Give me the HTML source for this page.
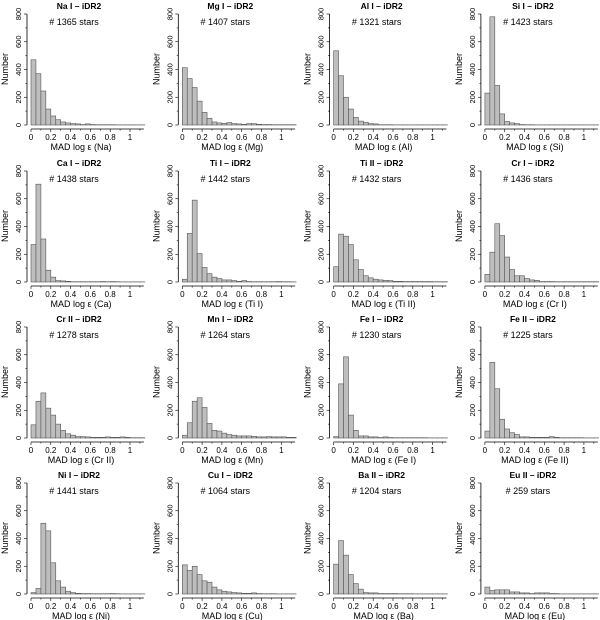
<!DOCTYPE html>
<html><head><meta charset="utf-8"><style>
html,body{margin:0;padding:0;background:#fff;}
svg{display:block;font-family:"Liberation Sans",sans-serif;}
</style></head><body>
<svg id="c" width="600" height="620"></svg>
<script>
const titles=["Na I","Mg I","Al I","Si I","Ca I","Ti I","Ti II","Cr I","Cr II","Mn I","Fe I","Fe II","Ni I","Cu I","Ba II","Eu II"];
const labels=["Na","Mg","Al","Si","Ca","Ti I","Ti II","Cr I","Cr II","Mn","Fe I","Fe II","Ni","Cu","Ba","Eu"];
const starCounts=[1365,1407,1321,1423,1438,1442,1432,1436,1278,1264,1230,1225,1441,1064,1204,259];
const binWidth=0.05;
const xTicks=[0,0.2,0.4,0.6,0.8,1];
const xTickLabels=["0","0.2","0.4","0.6","0.8","1"];
const yTicks=[0,200,400,600,800];
const hNa=[470,370,245,115,65,38,22,15,10,8,3,8,3,2,2,2,2,1,1,1,1,1,1];
const hMg=[413,334,270,172,91,48,22,15,12,18,10,8,5,10,10,5,3,3,2,2,2,2,2];
const hAl=[535,355,200,115,55,28,20,10,8,2,2,2,1,1,1,1,1,1,1,1,1,1,1];
const hSi=[230,780,285,80,25,15,10,3,2,2,1,1,1,1,1,1,1,1,1,1,1,1,1];
const hCa=[270,705,310,85,35,10,8,5,2,2,2,2,2,2,3,2,3,2,1,1,1,1,1];
const hTiI=[20,350,590,205,105,60,35,25,15,15,10,5,10,3,2,2,2,2,2,3,2,2,1];
const hTiII=[110,345,330,270,160,90,45,30,20,15,12,10,5,5,3,3,3,3,3,3,2,2,2];
const hCrI=[55,215,420,335,180,90,45,45,25,15,12,3,3,3,2,2,2,2,2,2,2,2,2];
const hCrII=[95,265,325,215,165,100,55,30,20,10,10,8,5,5,5,8,5,5,8,5,2,2,2];
const hMn=[20,110,265,290,220,105,55,50,35,25,20,15,15,15,12,8,8,10,8,8,8,5,5];
const hFeI=[10,390,585,165,55,15,15,8,8,3,8,3,2,2,2,2,2,2,2,1,1,1,1];
const hFeII=[50,545,355,135,65,38,25,8,8,5,5,5,5,10,5,2,2,2,2,2,1,1,1];
const hNi=[10,40,510,455,225,95,50,20,10,5,3,3,2,2,2,2,3,2,1,1,1,1,1];
const hCu=[210,170,200,140,95,85,50,30,20,15,10,8,5,5,8,3,2,2,2,1,1,1,1];
const hBa=[215,385,280,140,75,35,10,8,8,3,3,3,3,2,2,2,1,1,1,1,1,1,1];
const hEu=[50,25,30,30,30,15,15,8,8,3,8,8,8,3,3,1,1,1,1,1,1,1,1];
const allHists=[hNa,hMg,hAl,hSi,hCa,hTiI,hTiII,hCrI,hCrII,hMn,hFeI,hFeII,hNi,hCu,hBa,hEu];

const svg=document.getElementById('c');
const NS="http://www.w3.org/2000/svg";
function mk(tag,attrs,parent,text){const e=document.createElementNS(NS,tag);for(const k in attrs)e.setAttribute(k,attrs[k]);if(text!==undefined)e.textContent=text;parent.appendChild(e);return e;}
const rowY0=[125,282,438,594];
const xScaleK=99, yScaleK=111/800;
for(let i=0;i<16;i++){
  const col=i%4,row=Math.floor(i/4);
  const x0=31+col*151.3, y0=rowY0[row];
  const sx=v=>x0+v*xScaleK, sy=v=>y0-v*yScaleK;
  const g=mk('g',{},svg);
  
  
  const t=mk('text',{x:x0+48,y:y0-116,'text-anchor':'middle','font-size':'8.5','font-weight':'bold'},g,titles[i]+" \u2013 iDR2");
  
  
  const st=mk('text',{x:x0+43,y:y0-100,'text-anchor':'middle','font-size':'9'},g,"# "+starCounts[i]+" stars");
  
  
  const h=allHists[i];
  for(let b=0;b<h.length;b++){
    const r=mk('rect',{x:sx(b*binWidth),y:sy(h[b]),width:sx((b+1)*binWidth)-sx(b*binWidth),height:y0-sy(h[b]),fill:'#bebebe',stroke:'#555','stroke-width':'0.6'},g);
    
    
  }
  const ax=x0-4;
  const ya=mk('line',{x1:ax,y1:sy(0),x2:ax,y2:sy(800),stroke:'#000','stroke-width':'0.8'},g);
  
  
  for(let v=0;v<=800;v+=100){mk('line',{x1:ax-(v%200===0?3:1.5),y1:sy(v),x2:ax,y2:sy(v),stroke:'#000','stroke-width':'0.6'},g);}
  yTicks.forEach(v=>{const tl=mk('text',{x:ax-6,y:sy(v),'font-size':'7.5','text-anchor':'middle',transform:`rotate(-90 ${ax-6} ${sy(v)})`},g,String(v));
    });
  const yt=mk('text',{x:x0-23,y:y0-56,'font-size':'9','text-anchor':'middle',transform:`rotate(-90 ${x0-23} ${y0-56})`},g,"Number");
  
  
  const ay=y0+4;
  const xa=mk('line',{x1:sx(0),y1:ay,x2:sx(1.14),y2:ay,stroke:'#000','stroke-width':'0.8'},g);
  
  
  for(let k=0;k<=11;k++){const v=k*0.1;mk('line',{x1:sx(v),y1:ay,x2:sx(v),y2:ay+(k%2===0?3:1.5),stroke:'#000','stroke-width':'0.6'},g);}
  xTicks.forEach((v,j)=>{const tl=mk('text',{x:sx(v),y:ay+11,'font-size':'8','text-anchor':'middle'},g,xTickLabels[j]);
    });
  const xt=mk('text',{x:x0+50,y:y0+25,'font-size':'9','text-anchor':'middle'},g,"MAD log \u03b5 ("+labels[i]+")");
  
  
}
</script>
</body></html>
